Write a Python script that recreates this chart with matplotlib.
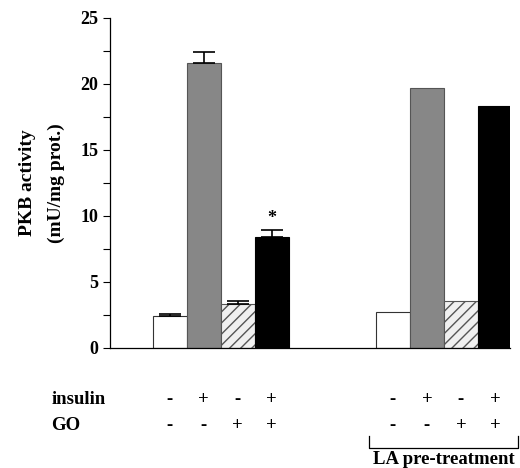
import matplotlib
matplotlib.use("Agg")
import matplotlib.pyplot as plt
import numpy as np

# Data
insulin = ["-", "+", "-", "+"]
go = ["-", "-", "+", "+"]
control_vals = [2.4, 21.6, 3.3, 8.4]
control_err = [0.14, 0.8, 0.25, 0.55]
la_vals = [2.7, 19.7, 3.55, 18.3]
yticks = [0, 5, 10, 15, 20, 25]

plt.rcParams['font.family'] = ['Liberation Serif', 'DejaVu Serif']
plt.rcParams['font.weight'] = 'bold'
plt.rcParams['hatch.color'] = '#555555'

fig = plt.figure(figsize=(5.2, 4.68), dpi=100)
ax = fig.add_axes([110/520, 120/468, 400/520, 330/468])

w = 1.0
g1_start = 1.26
g2_start = 7.82
pos1 = g1_start + np.arange(4) * w + w / 2
pos2 = g2_start + np.arange(4) * w + w / 2

faces = ['white', '#878787', '#f0f0f0', 'black']
hatches = [None, None, '///', None]
edges = ['#333333', '#555555', '#555555', 'black']

for positions, vals, errs in [(pos1, control_vals, control_err), (pos2, la_vals, None)]:
    for i in range(4):
        ax.bar(positions[i], vals[i], width=w, color=faces[i], edgecolor=edges[i],
               hatch=hatches[i], linewidth=0.8, zorder=2)
        if errs is not None:
            ax.errorbar(positions[i], vals[i], yerr=[[0], [errs[i]]], fmt='none',
                        ecolor='black', elinewidth=1.2, capsize=8, capthick=1.2, zorder=3)

ax.text(pos1[3], control_vals[3] + control_err[3] + 0.2, '*', ha='center', va='bottom',
        fontsize=13, fontweight='bold')

ax.set_xlim(0, 400/34)
ax.set_ylim(0, 25)
ax.set_yticks(yticks)
ax.set_yticks(np.arange(0, 25.1, 2.5), minor=True)
ax.set_yticklabels([str(t) for t in yticks], fontsize=13, fontweight='bold')
ax.tick_params(axis='y', which='both', direction='out', length=5, width=0.8)
ax.set_xticks([])
for s in ['top', 'right']:
    ax.spines[s].set_visible(False)
ax.spines['left'].set_linewidth(0.9)
ax.spines['bottom'].set_linewidth(0.9)

ax.set_ylabel('PKB activity\n(mU/mg prot.)', fontsize=14, fontweight='bold', labelpad=11,
              linespacing=1.9)

fs = 13.5
tr = ax.get_xaxis_transform()
y_ins = (348 - 400) / 330
y_go = (348 - 426) / 330
ax.text(-1.72, y_ins, 'insulin', transform=tr, ha='left', va='center', fontsize=fs, fontweight='bold')
ax.text(-1.72, y_go, 'GO', transform=tr, ha='left', va='center', fontsize=fs, fontweight='bold')
for positions in (pos1, pos2):
    for i in range(4):
        ax.text(positions[i], y_ins, insulin[i], transform=tr, ha='center', va='center',
                fontsize=fs, fontweight='bold')
        ax.text(positions[i], y_go, go[i], transform=tr, ha='center', va='center',
                fontsize=fs, fontweight='bold')

# bracket
bx0, bx1 = (369 - 110) / 34, (518 - 110) / 34
by0, by1 = (348 - 436) / 330, (348 - 448) / 330
ax.plot([bx0, bx0, bx1, bx1], [by0, by1, by1, by0], transform=tr, color='black', lw=0.9,
        clip_on=False)
ax.text((bx0 + bx1) / 2, (348 - 460) / 330, 'LA pre-treatment', transform=tr, ha='center',
        va='center', fontsize=13.5, fontweight='bold')

fig.savefig('out.png', dpi=100)
